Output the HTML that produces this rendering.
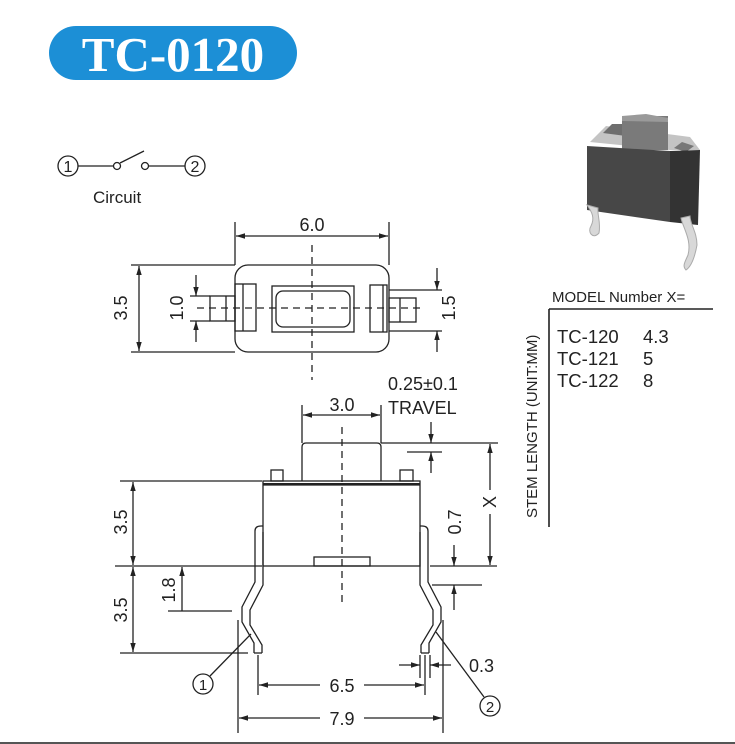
<!DOCTYPE html>
<html><head><meta charset="utf-8"><style>
html,body{margin:0;padding:0;background:#fff;}
svg{display:block;}
text{font-family:"Liberation Sans",sans-serif;fill:#222;}
</style></head><body>
<svg width="735" height="744" viewBox="0 0 735 744" xmlns="http://www.w3.org/2000/svg">
<defs>
<marker id="a" viewBox="0 0 10 10" refX="10" refY="5" markerWidth="7" markerHeight="7" orient="auto-start-reverse"><path d="M0,2 L10,5 L0,8 z" fill="#222"/></marker>
</defs>
<!-- title -->
<rect x="49" y="26" width="248" height="54" rx="27" fill="#1c8fd6"/>
<text x="173" y="71" text-anchor="middle" style="font-family:'Liberation Serif',serif;font-weight:bold;font-size:49px;fill:#fff">TC-0120</text>

<!-- circuit -->
<g stroke="#222" stroke-width="1.3" fill="none">
<circle cx="68" cy="166" r="10"/><circle cx="195" cy="166" r="10"/>
<line x1="78" y1="166" x2="113" y2="166"/><circle cx="117" cy="166" r="3.5"/>
<line x1="120" y1="163" x2="144" y2="151"/><circle cx="145" cy="166" r="3.5"/>
<line x1="149" y1="166" x2="185" y2="166"/>
</g>
<text x="68" y="172" text-anchor="middle" font-size="16">1</text>
<text x="195" y="172" text-anchor="middle" font-size="16">2</text>
<text x="93" y="203" font-size="17">Circuit</text>

<!-- top view -->
<g stroke="#222" stroke-width="1.3" fill="none">
<rect x="235" y="265" width="154" height="87" rx="13"/>
<rect x="235" y="284" width="21" height="47"/><line x1="243" y1="284" x2="243" y2="331"/>
<rect x="272" y="286" width="82" height="46"/><rect x="276" y="291" width="74" height="36" rx="7"/>
<rect x="370" y="285" width="17" height="47"/><line x1="383" y1="285" x2="383" y2="332"/>
<rect x="210" y="296" width="25" height="25"/><line x1="226" y1="296" x2="226" y2="321"/>
<rect x="389" y="298" width="27" height="24"/><line x1="400" y1="298" x2="400" y2="322"/>
<line x1="197" y1="308" x2="422" y2="308" stroke-dasharray="7,5"/>
<line x1="312" y1="245" x2="312" y2="380" stroke-dasharray="7,5"/>
<!-- 6.0 -->
<line x1="235" y1="222" x2="235" y2="265"/><line x1="389" y1="222" x2="389" y2="265"/>
<line x1="236" y1="236" x2="388" y2="236" marker-start="url(#a)" marker-end="url(#a)"/>
<!-- 3.5 -->
<line x1="131" y1="265" x2="235" y2="265"/><line x1="131" y1="352" x2="235" y2="352"/>
<line x1="139" y1="266" x2="139" y2="351" marker-start="url(#a)" marker-end="url(#a)"/>
<!-- 1.0 -->
<line x1="190" y1="296" x2="210" y2="296"/><line x1="190" y1="321" x2="210" y2="321"/>
<line x1="196" y1="275" x2="196" y2="296" marker-end="url(#a)"/>
<line x1="196" y1="342" x2="196" y2="321" marker-end="url(#a)"/>
<!-- 1.5 -->
<line x1="389" y1="290" x2="442" y2="290"/><line x1="389" y1="331" x2="442" y2="331"/>
<line x1="437" y1="268" x2="437" y2="290" marker-end="url(#a)"/>
<line x1="437" y1="352" x2="437" y2="331" marker-end="url(#a)"/>
</g>
<text x="312" y="231" text-anchor="middle" font-size="18">6.0</text>
<text transform="translate(127,308) rotate(-90)" text-anchor="middle" font-size="18">3.5</text>
<text transform="translate(183,308) rotate(-90)" text-anchor="middle" font-size="18">1.0</text>
<text transform="translate(443,308) rotate(-90)" text-anchor="middle" font-size="18" dy="12">1.5</text>

<!-- photo -->
<g>
<path d="M590,142 L606,126 L690,137 L700,150 L670,150 Z" fill="#c4c4c4"/>
<path d="M603,133 L612,124 L626,124 L626,136 Z" fill="#6e6e6e"/>
<path d="M674,148 L682,142 L694,146 L686,152 Z" fill="#777"/>
<rect x="622" y="116" width="46" height="34" fill="#7a7a7a"/>
<path d="M622,116 L646,114 L668,118 L668,122 L622,121Z" fill="#9a9a9a"/>
<path d="M587,146 L670,151 L670,222 L587,210 Z" fill="#474747"/>
<path d="M670,151 L700,150 L698,225 L670,222 Z" fill="#333"/>
<path d="M587,205 C592,212 595,218 591,226 C587,232 593,240 599,233 C601,223 597,214 598,208Z" fill="#d8d8d8" stroke="#aaa" stroke-width="1"/>
<path d="M681,218 C683,228 692,240 688,255 C685,262 682,266 686,270 C692,266 695,256 697,245 C697,232 690,224 690,216Z" fill="#d8d8d8" stroke="#aaa" stroke-width="1"/>
</g>

<!-- model table -->
<line x1="549" y1="309" x2="549" y2="527" stroke="#222" stroke-width="1.6"/>
<line x1="549" y1="309" x2="713" y2="309" stroke="#222" stroke-width="1.6"/>
<text x="552" y="302" font-size="15">MODEL Number X=</text>
<text x="557" y="343" font-size="18.5">TC-120</text><text x="643" y="343" font-size="18.5">4.3</text>
<text x="557" y="365" font-size="18.5">TC-121</text><text x="643" y="365" font-size="18.5">5</text>
<text x="557" y="387" font-size="18.5">TC-122</text><text x="643" y="387" font-size="18.5">8</text>
<text transform="translate(537,518) rotate(-90)" font-size="15">STEM LENGTH (UNIT:MM)</text>

<!-- side view -->
<g stroke="#222" stroke-width="1.3" fill="none">
<rect x="263" y="481" width="157" height="85"/>
<line x1="263" y1="485" x2="420" y2="485"/>
<path d="M302,481 L302,447 Q302,443 306,443 L377,443 Q381,443 381,447 L381,481"/>
<rect x="271" y="470" width="12" height="11"/><rect x="400" y="470" width="13" height="11"/>
<rect x="314" y="557" width="56" height="9"/>
<line x1="342" y1="427" x2="342" y2="602" stroke-dasharray="7,5"/>
<line x1="302" y1="405" x2="302" y2="443"/><line x1="381" y1="405" x2="381" y2="443"/>
<line x1="303" y1="415" x2="380" y2="415" marker-start="url(#a)" marker-end="url(#a)"/>
<line x1="381" y1="443" x2="498" y2="443"/>
<line x1="407" y1="452" x2="442" y2="452"/>
<line x1="431" y1="422" x2="431" y2="443" marker-end="url(#a)"/>
<line x1="431" y1="473" x2="431" y2="452" marker-end="url(#a)"/>
<line x1="490" y1="444" x2="490" y2="490" marker-start="url(#a)"/>
<line x1="490" y1="514" x2="490" y2="565" marker-end="url(#a)"/>
<line x1="430" y1="566" x2="497" y2="566"/>
<line x1="454" y1="545" x2="454" y2="566" marker-end="url(#a)"/>
<line x1="432" y1="585" x2="482" y2="585"/>
<line x1="454" y1="610" x2="454" y2="585" marker-end="url(#a)"/>
<line x1="120" y1="481" x2="262" y2="481"/><line x1="115" y1="566" x2="262" y2="566"/>
<line x1="120" y1="653" x2="248" y2="653"/>
<line x1="133" y1="482" x2="133" y2="565" marker-start="url(#a)" marker-end="url(#a)"/>
<line x1="133" y1="567" x2="133" y2="652" marker-start="url(#a)" marker-end="url(#a)"/>
<line x1="168" y1="611" x2="232" y2="611"/>
<line x1="182" y1="567" x2="182" y2="611" marker-start="url(#a)"/>
<path d="M254,653 L254,643 L242,622 L242,607 L255,582 L255,531 Q255,526 261,526 L263,526"/>
<path d="M262,653 L262,645 L250,625 L250,610 L263,585 L263,532"/>
<line x1="254" y1="653" x2="262" y2="653"/>
<path d="M429,653 L429,643 L441,622 L441,607 L428,582 L428,531 Q428,526 422,526 L420,526"/>
<path d="M421,653 L421,645 L433,625 L433,610 L420,585 L420,532"/>
<line x1="421" y1="653" x2="429" y2="653"/>
<circle cx="203" cy="684" r="10"/><line x1="210" y1="676" x2="251" y2="634"/>
<circle cx="490" cy="706" r="10"/><line x1="484" y1="697" x2="436" y2="632"/>
<line x1="258" y1="655" x2="258" y2="695"/><line x1="425" y1="655" x2="425" y2="695"/>
<line x1="259" y1="685" x2="320" y2="685" marker-start="url(#a)"/>
<line x1="364" y1="685" x2="424" y2="685" marker-end="url(#a)"/>
<line x1="238" y1="620" x2="238" y2="733"/><line x1="443" y1="620" x2="443" y2="733"/>
<line x1="239" y1="718" x2="320" y2="718" marker-start="url(#a)"/>
<line x1="364" y1="718" x2="442" y2="718" marker-end="url(#a)"/>
<line x1="420" y1="655" x2="420" y2="678"/><line x1="430" y1="655" x2="430" y2="678"/>
<line x1="399" y1="665" x2="420" y2="665" marker-end="url(#a)"/>
<line x1="451" y1="665" x2="430" y2="665" marker-end="url(#a)"/>
</g>
<rect x="263" y="483" width="157" height="2" fill="#222"/>
<text x="342" y="411" text-anchor="middle" font-size="18">3.0</text>
<text x="388" y="390" font-size="18">0.25±0.1</text>
<text x="388" y="414" font-size="18">TRAVEL</text>
<text transform="translate(496,502) rotate(-90)" text-anchor="middle" font-size="18">X</text>
<text transform="translate(461,522) rotate(-90)" text-anchor="middle" font-size="18">0.7</text>
<text transform="translate(127,522) rotate(-90)" text-anchor="middle" font-size="18">3.5</text>
<text transform="translate(127,610) rotate(-90)" text-anchor="middle" font-size="18">3.5</text>
<text transform="translate(175,590) rotate(-90)" text-anchor="middle" font-size="18">1.8</text>
<text x="203" y="690" text-anchor="middle" font-size="15">1</text>
<text x="490" y="712" text-anchor="middle" font-size="15">2</text>
<text x="342" y="692" text-anchor="middle" font-size="18">6.5</text>
<text x="342" y="725" text-anchor="middle" font-size="18">7.9</text>
<text x="469" y="672" font-size="18">0.3</text>
<rect x="0" y="742" width="735" height="2" fill="#555"/>
</svg>
</body></html>
